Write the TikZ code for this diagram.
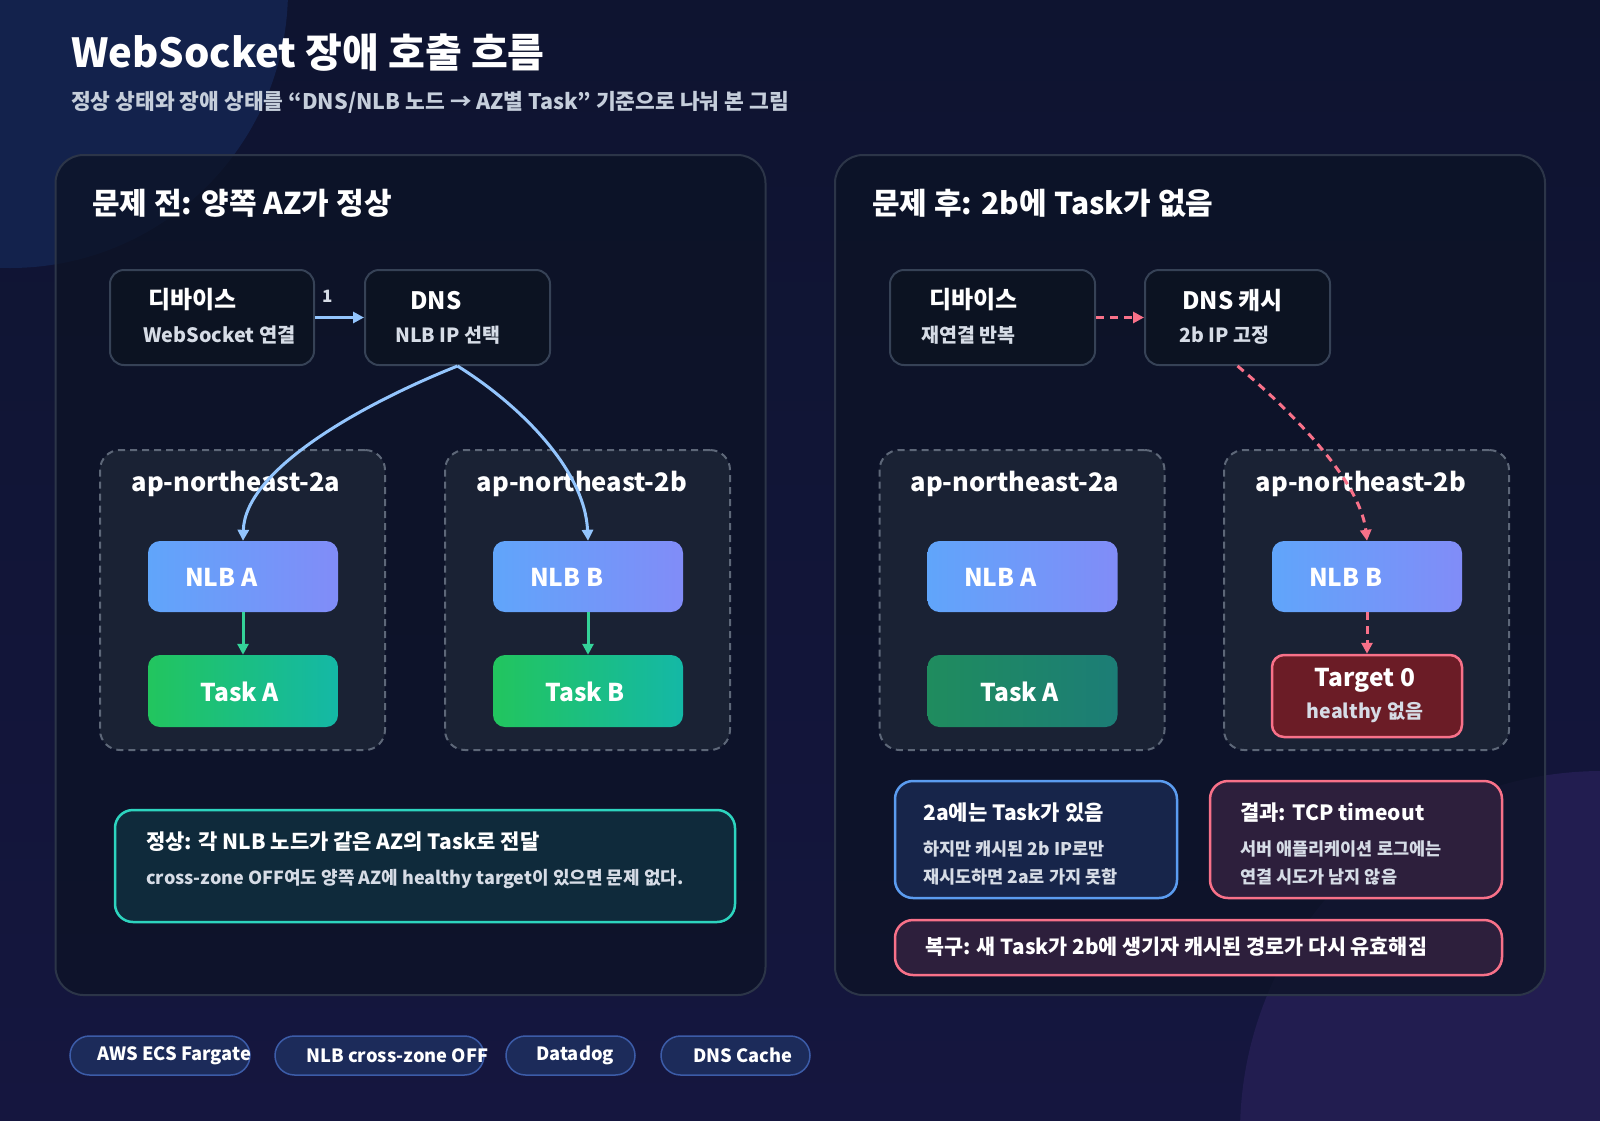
\documentclass[tikz,border=0pt]{standalone}
\usepackage{fontspec}
\setmainfont{Noto Sans CJK KR}
\usetikzlibrary{arrows.meta}

\definecolor{bgtop}{HTML}{0E1430}
\definecolor{bgbot}{HTML}{15163F}
\definecolor{glowblue}{HTML}{13224C}
\definecolor{glowviolet}{HTML}{221D50}
\definecolor{panelfill}{HTML}{0C1325}
\definecolor{panelline}{HTML}{2C3548}
\definecolor{cardfill}{HTML}{0C1322}
\definecolor{cardline}{HTML}{364256}
\definecolor{zonefill}{HTML}{1A2234}
\definecolor{zoneline}{HTML}{5D6778}
\definecolor{nlbleft}{HTML}{60A5FA}
\definecolor{nlbright}{HTML}{818CF8}
\definecolor{taskleft}{HTML}{22C55E}
\definecolor{taskright}{HTML}{14B8A6}
\definecolor{dimleft}{HTML}{1F8C5E}
\definecolor{dimright}{HTML}{1C7D76}
\definecolor{failfill}{HTML}{6B1C26}
\definecolor{rose}{HTML}{F87189}
\definecolor{flowblue}{HTML}{93C5FD}
\definecolor{flowgreen}{HTML}{34D399}
\definecolor{tealfill}{HTML}{0F2A3B}
\definecolor{tealline}{HTML}{2DD4BF}
\definecolor{bluefill}{HTML}{17254A}
\definecolor{blueline}{HTML}{5B9CF0}
\definecolor{redfill}{HTML}{2D1F3C}
\definecolor{pillfill}{HTML}{1C2B5A}
\definecolor{pillline}{HTML}{3C5CA8}
\definecolor{softtext}{HTML}{C5CEDB}
\definecolor{bodytext}{HTML}{D6DCE6}

\newcommand{\fsz}[1]{\fontsize{#1}{#1}\selectfont}

\tikzset{
  box/.style={rectangle, inner sep=0pt, minimum width=#1},
  panel/.style={box=710pt, minimum height=840pt, draw=panelline, fill=panelfill, fill opacity=0.75, rounded corners=28pt, line width=2pt},
  card/.style={box=#1, minimum height=95pt, draw=cardline, fill=cardfill, rounded corners=14pt, line width=2pt},
  zone/.style={box=285pt, minimum height=300pt, draw=zoneline, fill=zonefill, dashed, dash pattern=on 7pt off 5pt, rounded corners=20pt, line width=2pt},
  nlb/.style={box=190pt, minimum height=71pt, rounded corners=12pt, left color=nlbleft, right color=nlbright},
  task/.style={box=190pt, minimum height=72pt, rounded corners=12pt, left color=taskleft, right color=taskright},
  dimtask/.style={box=190pt, minimum height=72pt, rounded corners=12pt, left color=dimleft, right color=dimright},
  failbox/.style={box=190pt, minimum height=82pt, rounded corners=12pt, draw=rose, fill=failfill, line width=2.5pt},
  note/.style={box=#1, rounded corners=18pt, line width=2.5pt},
  pill/.style={box=#1, minimum height=39pt, rounded corners=19.5pt, draw=pillline, fill=pillfill, line width=1.5pt},
  txt/.style={inner sep=0pt, anchor=west, text=white, font=\bfseries\fsz{#1}},
  ctxt/.style={inner sep=0pt, text=white, font=\bfseries\fsz{#1}},
  flow/.style={draw=flowblue, line width=3pt, -{Triangle[length=11pt, width=11pt]}},
  okflow/.style={draw=flowgreen, line width=3pt, -{Triangle[length=11pt, width=11pt]}},
  badflow/.style={draw=rose, line width=3pt, dash pattern=on 8pt off 6pt, -{Triangle[length=11pt, width=11pt]}},
}

\begin{document}
\begin{tikzpicture}[x=1pt, y=-1pt]
    % background
    \useasboundingbox (0,0) rectangle (1600,1120);
    \shade[top color=bgtop, bottom color=bgbot] (0,0) rectangle (1600,1120);
    \begin{scope}
        \clip (0,0) rectangle (1600,1120);
        \fill[glowblue] (10,-10) circle[radius=278];
        \fill[glowviolet] (1602,1133) circle[radius=362];
    \end{scope}

    % Title
    \node[txt=40] (title) at (71,53) {WebSocket 장애 호출 흐름};
    \node[txt=21.5, text=softtext] (subtitle) at (71,102) {정상 상태와 장애 상태를 “DNS/NLB 노드 → AZ별 Task” 기준으로 나눠 본 그림};

    % Panels
    \node[panel] (before) at (410.5,575) {};
    \node[panel] (after) at (1190,575) {};
    \node[txt=30] (beforetitle) at (92,203) {문제 전: 양쪽 AZ가 정상};
    \node[txt=30] (aftertitle) at (872,203) {문제 후: 2b에 Task가 없음};

    % Before: device and DNS
    \node[card=204pt] (dev1) at (212,317.5) {};
    \node[txt=24] (dev1name) at (148,300) {디바이스};
    \node[txt=19.8, text=bodytext] (dev1sub) at (143,335) {WebSocket 연결};
    \node[card=185pt] (dns1) at (457.5,317.5) {};
    \node[txt=24] (dns1name) at (410,301) {DNS};
    \node[txt=19.5, text=bodytext] (dns1sub) at (395,335) {NLB IP 선택};

    % Before: zones
    \node[zone] (zoneA1) at (242.5,600) {};
    \node[zone] (zoneB1) at (587.5,600) {};
    \node[ctxt=25.5] (zoneA1name) at (236,484) {ap-northeast-2a};
    \node[ctxt=25.5] (zoneB1name) at (582,484) {ap-northeast-2b};
    \node[nlb] (nlbA1) at (243,576.5) {};
    \node[txt=24.5] at (185,577) {NLB A};
    \node[task] (taskA1) at (243,691) {};
    \node[txt=24.5] at (200,692) {Task A};
    \node[nlb] (nlbB1) at (588,576.5) {};
    \node[txt=24.5] at (530,577) {NLB B};
    \node[task] (taskB1) at (588,691) {};
    \node[txt=24.5] at (545,692) {Task B};

    % Before: note
    \node[note=620pt, minimum height=112pt, draw=tealline, fill=tealfill] (okno) at (425,866) {};
    \node[txt=21] (oknotitle) at (146,842) {정상: 각 NLB 노드가 같은 AZ의 Task로 전달};
    \node[txt=18, text=bodytext] (oknotebody) at (146,879) {cross-zone OFF여도 양쪽 AZ에 healthy target이 있으면 문제 없다.};

    % After: device and DNS cache
    \node[card=205pt] (dev2) at (992.5,317.5) {};
    \node[txt=24] (dev2name) at (929,300) {디바이스};
    \node[txt=19.5, text=bodytext] (dev2sub) at (921,335) {재연결 반복};
    \node[card=185pt] (dns2) at (1237.5,317.5) {};
    \node[txt=24] (dns2name) at (1182,301) {DNS 캐시};
    \node[txt=19.5, text=bodytext] (dns2sub) at (1179,335) {2b IP 고정};

    % After: zones
    \node[zone] (zoneA2) at (1022,600) {};
    \node[zone] (zoneB2) at (1366.5,600) {};
    \node[ctxt=25.5] (zoneA2name) at (1015,484) {ap-northeast-2a};
    \node[ctxt=25.5] (zoneB2name) at (1361,484) {ap-northeast-2b};
    \node[nlb] (nlbA2) at (1022.5,576.5) {};
    \node[txt=24.5] at (964,577) {NLB A};
    \node[dimtask] (taskA2) at (1022.5,691) {};
    \node[txt=24.5] at (980,692) {Task A};
    \node[nlb] (nlbB2) at (1367,576.5) {};
    \node[txt=24.5] at (1309,577) {NLB B};
    \node[failbox] (target) at (1367,696) {};
    \node[ctxt=24.5] (targetname) at (1365,680) {Target 0};
    \node[ctxt=19.5, text=bodytext] (targetsub) at (1365,712) {healthy 없음};

    % After: notes
    \node[note=282pt, minimum height=117pt, draw=blueline, fill=bluefill] (hasTask) at (1036,839.5) {};
    \node[txt=21] at (923,813) {2a에는 Task가 있음};
    \node[txt=17.5, text=bodytext] at (923,849) {하지만 캐시된 2b IP로만};
    \node[txt=17.5, text=bodytext] at (923,877) {재시도하면 2a로 가지 못함};
    \node[note=292pt, minimum height=117pt, draw=rose, fill=redfill] (result) at (1356,839.5) {};
    \node[txt=21] at (1240,813) {결과: TCP timeout};
    \node[txt=17.5, text=bodytext] at (1240,849) {서버 애플리케이션 로그에는};
    \node[txt=17.5, text=bodytext] at (1240,877) {연결 시도가 남지 않음};
    \node[note=607pt, minimum height=55pt, draw=rose, fill=redfill] (recover) at (1198.5,947.5) {};
    \node[txt=20.7] at (925,947) {복구: 새 Task가 2b에 생기자 캐시된 경로가 다시 유효해짐};

    % Tags
    \node[pill=180pt] (tagECS) at (160,1055.5) {};
    \node[txt=18.3] at (97,1055.5) {AWS ECS Fargate};
    \node[pill=209pt] (tagNLB) at (379.5,1055.5) {};
    \node[txt=18.3] at (306,1055.5) {NLB cross-zone OFF};
    \node[pill=129pt] (tagDD) at (570.5,1055.5) {};
    \node[txt=18.3] at (536,1055.5) {Datadog};
    \node[pill=149pt] (tagDNS) at (735.5,1055.5) {};
    \node[txt=18.3] at (693,1055.5) {DNS Cache};

    % Connections
    \draw[flow] (dev1.east) -- node[pos=0.25, above=14pt, ctxt=17, text=bodytext] {1} (dns1.west);
    \draw[flow] (dns1.south) .. controls (360,405) and (245,470) .. (nlbA1.north);
    \draw[flow] (dns1.south) .. controls (520,405) and (585,470) .. (nlbB1.north);
    \draw[okflow] (nlbA1) -- (taskA1);
    \draw[okflow] (nlbB1) -- (taskB1);
    \draw[badflow] (dev2.east) -- (dns2.west);
    \draw[badflow] (dns2.south) .. controls (1290,410) and (1360,480) .. (nlbB2.north);
    \draw[badflow] (nlbB2) -- (target);
\end{tikzpicture}
\end{document}
